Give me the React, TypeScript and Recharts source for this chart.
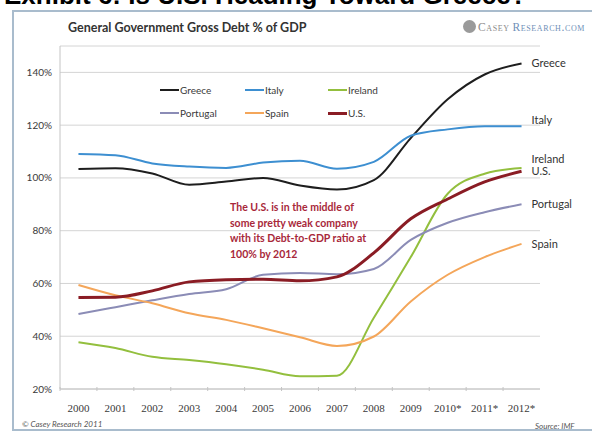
import { LineChart, Line, XAxis, YAxis, CartesianGrid } from 'recharts'

const years = ['2000', '2001', '2002', '2003', '2004', '2005', '2006', '2007', '2008', '2009', '2010*', '2011*', '2012*']
const greece = [103.4, 103.7, 101.7, 97.4, 98.6, 100, 97.1, 95.6, 99.2, 115.1, 129.8, 139.2, 143.4]
const italy = [109.1, 108.6, 105.5, 104.3, 103.8, 105.8, 106.5, 103.5, 106.1, 116, 118.4, 119.6, 119.6]
const ireland = [37.7, 35.5, 32.2, 31, 29.4, 27.3, 24.8, 25, 47, 70, 94, 101.6, 103.8]
const portugal = [48.4, 51, 53.6, 56, 57.8, 63.3, 64, 63.5, 65.5, 76.5, 83, 87, 90]
const spain = [59.4, 55.5, 52.5, 48.7, 46.2, 43, 39.6, 36.3, 39.9, 53.2, 63.3, 70, 75]
const us = [54.7, 54.8, 57.2, 60.6, 61.4, 61.6, 61, 62.5, 71.6, 84.5, 92, 98.5, 102.5]
const yTicks = [20, 40, 60, 80, 100, 120, 140]

const SERIES = [
  { key: 'Greece', values: greece, color: '#1e1e1e', width: 2, dy: 0 },
  { key: 'Italy', values: italy, color: '#3d8fd1', width: 2, dy: -6 },
  { key: 'Ireland', values: ireland, color: '#93bf3e', width: 2, dy: -9 },
  { key: 'Portugal', values: portugal, color: '#8b8cb6', width: 2, dy: 0 },
  { key: 'Spain', values: spain, color: '#f4a65a', width: 2, dy: 0 },
  { key: 'U.S.', values: us, color: '#8a1c24', width: 3, dy: 0 },
]

const data = years.map((year, i) => {
  const row: Record<string, string | number> = { year }
  SERIES.forEach((s) => { row[s.key] = s.values[i] })
  return row
})

const HALF_BAND = 480 / years.length / 2

function XTick(props: any) {
  const { x, y, payload } = props
  return (
    <g>
      <line x1={x - HALF_BAND} x2={x - HALF_BAND} y1={y - 2} y2={y + 2} stroke="#c4c4c4" />
      <text x={x} y={y + 23} textAnchor="middle" fontSize={11} fill="#3a3a3a" fontFamily="'Liberation Serif', serif">
        {payload.value}
      </text>
    </g>
  )
}

function LegendBox() {
  return (
    <div style={{ position: 'absolute', left: 160, top: 83, display: 'grid', gridTemplateColumns: '85px 83px 80px', rowGap: 9, fontFamily: 'Lato, sans-serif', fontSize: 10, color: '#3a3a3a' }}>
      {SERIES.map((s) => (
        <div key={s.key} style={{ display: 'flex', alignItems: 'center', height: 14 }}>
          <span style={{ display: 'inline-block', width: 19, height: s.width, background: s.color, marginRight: 1 }} />
          {s.key}
        </div>
      ))}
    </div>
  )
}

function endLabel(name: string, dy: number) {
  return (props: any) => {
    if (props.index !== years.length - 1) return null
    return (
      <text x={props.x + 10} y={props.y + dy} dy={4} fontSize={11} fill="#333" fontFamily="Lato, sans-serif">
        {name}
      </text>
    )
  }
}

export default function App() {
  return (
    <div style={{ position: 'absolute', left: 0, top: 0, width: 592, height: 435, overflow: 'hidden', background: '#fff' }}>
      <div style={{ position: 'absolute', left: 4, top: -20, fontFamily: "'Liberation Sans', Arial, sans-serif", fontWeight: 700, fontSize: 26, whiteSpace: 'nowrap', color: '#000' }}>
        Exhibit 6: Is U.S. Heading Toward Greece?
      </div>
      <div style={{ position: 'absolute', left: 12, top: 10, width: 600, height: 421, border: '2px solid #a9bccd', borderRight: 'none', boxSizing: 'border-box' }} />
      <div style={{ position: 'absolute', left: 68, top: 20, fontFamily: 'Lato, sans-serif', fontWeight: 700, fontSize: 12.5, color: '#333' }}>
        General Government Gross Debt % of GDP
      </div>
      <div style={{ position: 'absolute', left: 463, top: 20, display: 'flex', alignItems: 'center', fontFamily: "'Liberation Serif', serif", fontSize: 11.5, letterSpacing: 0.6, fontVariant: 'small-caps', whiteSpace: 'nowrap' }}>
        <span style={{ display: 'inline-block', width: 13, height: 13, borderRadius: 7, background: '#9a9a9a', marginRight: 2 }} />
        <span style={{ color: '#8a8a8a' }}>Casey</span>
        <span style={{ color: '#6f8fb8', marginLeft: 3 }}>Research.com</span>
      </div>
      <div style={{ position: 'absolute', left: 0, top: 0 }}>
        <LineChart width={592} height={435} data={data} margin={{ top: 46, right: 52, left: 15, bottom: 16 }}>
          <CartesianGrid vertical={false} stroke="#d4d4d4" />
          <XAxis dataKey="year" scale="band" height={30} tickLine={false} tickSize={0} tickMargin={0} axisLine={{ stroke: '#c4c4c4' }} tick={<XTick />} interval={0} />
          <YAxis
            width={45}
            domain={[20, 150]}
            ticks={yTicks}
            tickFormatter={(v) => `${v}%`}
            tickLine={false}
            tickSize={0}
            tickMargin={8}
            axisLine={{ stroke: '#c4c4c4' }}
            tick={{ fontSize: 10, fill: '#3a3a3a', fontFamily: 'Lato, sans-serif' }}
          />
          {SERIES.map((s) => (
            <Line
              key={s.key}
              dataKey={s.key}
              type="monotone"
              stroke={s.color}
              strokeWidth={s.width}
              dot={false}
              isAnimationActive={false}
              label={endLabel(s.key, s.dy)}
            />
          ))}
        </LineChart>
      </div>
      <LegendBox />
      <div style={{ position: 'absolute', left: 230, top: 200, fontFamily: 'Lato, sans-serif', fontWeight: 700, fontSize: 10.5, lineHeight: '15.5px', color: '#a8283a' }}>
        The U.S. is in the middle of<br />
        some pretty weak company<br />
        with its Debt-to-GDP ratio at<br />
        100% by 2012
      </div>
      <div style={{ position: 'absolute', left: 22, top: 419, fontFamily: 'Lato, sans-serif', fontStyle: 'italic', fontSize: 8, color: '#555' }}>
        © Casey Research 2011
      </div>
      <div style={{ position: 'absolute', left: 535, top: 421, fontFamily: 'Lato, sans-serif', fontStyle: 'italic', fontSize: 8, color: '#555' }}>
        Source: IMF
      </div>
    </div>
  )
}
